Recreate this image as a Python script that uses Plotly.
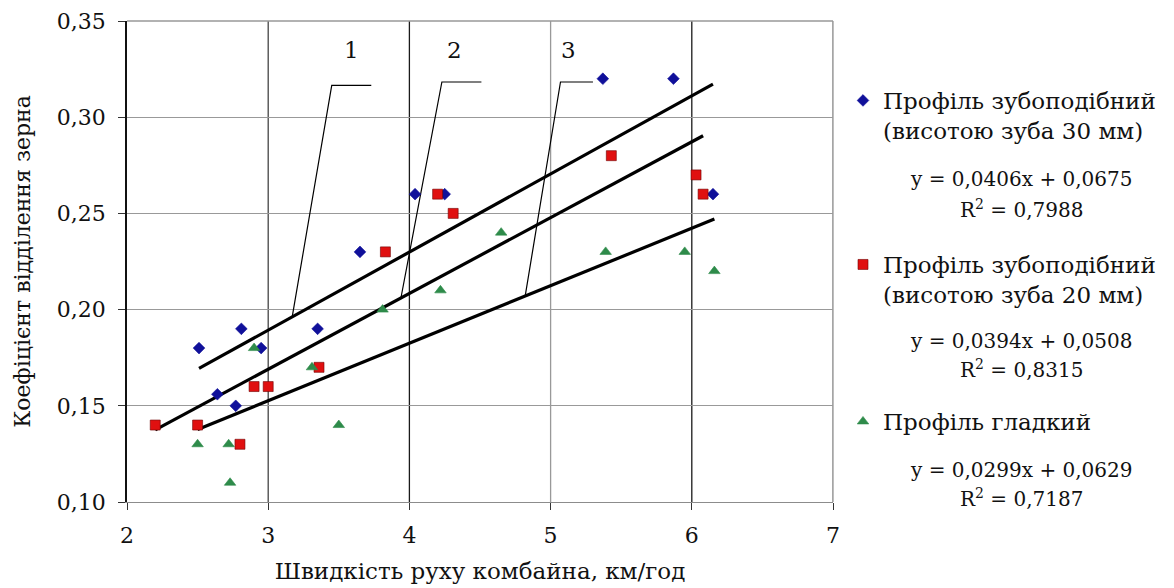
import plotly.graph_objects as go

# ---------------- data ----------------
speed_30 = [2.51, 2.64, 2.77, 2.81, 2.95, 3.35, 3.65, 4.04, 4.25, 5.37, 5.87, 6.15]
coef_30 = [0.18, 0.156, 0.15, 0.19, 0.18, 0.19, 0.23, 0.26, 0.26, 0.32, 0.32, 0.26]

speed_20 = [2.20, 2.50, 2.80, 2.90, 3.00, 3.36, 3.83, 4.20, 4.31, 5.43, 6.03, 6.08]
coef_20 = [0.14, 0.14, 0.13, 0.16, 0.16, 0.17, 0.23, 0.26, 0.25, 0.28, 0.27, 0.26]

speed_smooth = [2.50, 2.72, 2.73, 2.90, 3.31, 3.50, 3.81, 4.22, 4.65, 5.39, 5.95, 6.16]
coef_smooth = [0.13, 0.13, 0.11, 0.18, 0.17, 0.14, 0.20, 0.21, 0.24, 0.23, 0.23, 0.22]

series_names = [
    "Профіль зубоподібний<br>(висотою зуба 30 мм)",
    "Профіль зубоподібний<br>(висотою зуба 20 мм)",
    "Профіль гладкий",
]
slopes = [0.0406, 0.0394, 0.0299]
intercepts = [0.0675, 0.0508, 0.0629]
r_squared = ["0,7988", "0,8315", "0,7187"]
equation_texts = ["y = 0,0406x + 0,0675", "y = 0,0394x + 0,0508", "y = 0,0299x + 0,0629"]

line_labels = ["1", "2", "3"]
label_x = [3.59, 4.32, 5.13]
label_y = [0.3270, 0.3270, 0.3270]
# leader lines: (end of horizontal bar, corner, point on trend line)
leader_bar_end_x = [3.73, 4.51, 5.30]
leader_corner_x = [3.45, 4.23, 5.07]
leader_corner_y = [0.3165, 0.3183, 0.3183]
leader_end_x = [3.17, 3.94, 4.82]

x_ticks = [2, 3, 4, 5, 6, 7]
y_ticks = [0.10, 0.15, 0.20, 0.25, 0.30, 0.35]
x_title = "Швидкість руху комбайна, км/год"
y_title = "Коефіцієнт відділення зерна"

# ---------------- style ----------------
FONT = "DejaVu Serif"
colors = ["#10109a", "#e01010", "#2e8b4a"]
symbols = ["diamond", "square", "triangle-up"]
sizes = [9, 10, 10]
line_colors = ["#999999", "#444444", "#1a1a1a", "#999999", "#1a1a1a", "#999999"]

# page body has an 8px margin: place figure so the plot area lands where the reference has it
PAGE_OFF = 8
PL, PT, PW, PH = 127, 21, 706, 481   # absolute plot area (px)


def px_x(px):
    return (px - PL) / PW


def px_y(py):
    return (PT + PH - py) / PH


fig = go.Figure()

xs = [speed_30, speed_20, speed_smooth]
ys = [coef_30, coef_20, coef_smooth]
legends = ["legend", "legend2", "legend3"]

# trend lines
for i in range(3):
    x0, x1 = min(xs[i]), max(xs[i])
    fig.add_trace(go.Scatter(
        x=[x0, x1],
        y=[slopes[i] * x0 + intercepts[i], slopes[i] * x1 + intercepts[i]],
        mode="lines", line=dict(color="black", width=3.2),
        showlegend=False, hoverinfo="skip"))

# leader lines
for i in range(3):
    xc = leader_corner_x[i]
    yc = leader_corner_y[i]
    xe = leader_end_x[i]
    fig.add_trace(go.Scatter(
        x=[leader_bar_end_x[i], xc, xe],
        y=[yc, yc, slopes[i] * xe + intercepts[i]],
        mode="lines", line=dict(color="black", width=1.2),
        showlegend=False, hoverinfo="skip"))

# scatter series
for i in range(3):
    fig.add_trace(go.Scatter(
        x=xs[i], y=ys[i], mode="markers", name=series_names[i],
        marker=dict(symbol=symbols[i], size=sizes[i], color=colors[i],
                    line=dict(width=0.6, color="#700000" if i == 1 else colors[i])),
        legend=legends[i]))

# line number labels
for i in range(3):
    fig.add_annotation(x=label_x[i], y=label_y[i], text=line_labels[i], showarrow=False,
                       font=dict(family=FONT, size=23), yanchor="bottom")

# vertical grid lines (shapes)
for xv, c in zip(x_ticks, line_colors):
    if xv == x_ticks[0]:
        continue
    fig.add_shape(type="line", x0=xv, x1=xv, y0=0, y1=1, xref="x", yref="paper",
                  line=dict(color=c, width=1.3), layer="below")
# top border
fig.add_shape(type="line", x0=0, x1=1, y0=1, y1=1, xref="paper", yref="paper",
              line=dict(color="#999999", width=1.3), layer="below")

# equations
eq_center_px = 1021
eq_y_px = [(179, 209), (341, 369), (470, 498)]
for i in range(3):
    fig.add_annotation(x=px_x(eq_center_px), y=px_y(eq_y_px[i][0]), xref="paper", yref="paper",
                       xanchor="center", yanchor="middle",
                       text=equation_texts[i], showarrow=False,
                       font=dict(family=FONT, size=20))
    fig.add_annotation(x=px_x(eq_center_px), y=px_y(eq_y_px[i][1]), xref="paper", yref="paper",
                       xanchor="center", yanchor="middle",
                       text="R<sup>2</sup> = " + r_squared[i], showarrow=False,
                       font=dict(family=FONT, size=20))

legend_common = dict(xanchor="left", yanchor="top", valign="top",
                     font=dict(family=FONT, size=23),
                     bgcolor="rgba(0,0,0,0)", borderwidth=0, itemwidth=30)
legend_top_px = [79, 243, 400]
legend_left_px = 843

W, H = 1174 - PAGE_OFF, 588 - PAGE_OFF
ml = PL - PAGE_OFF
mt = PT - PAGE_OFF
mr = W - ml - PW
mb = H - mt - PH

fig.update_layout(
    width=W, height=H,
    margin=dict(l=ml, r=mr, t=mt, b=mb, autoexpand=False),
    paper_bgcolor="white", plot_bgcolor="white",
    separators=", ",
    font=dict(family=FONT, size=22, color="#111111"),
    xaxis=dict(range=[2, 7], tickvals=x_ticks, showgrid=False, zeroline=False,
               showline=True, linecolor="#8c8c8c", linewidth=1.3,
               ticks="outside", ticklen=7, tickcolor="#333", tickwidth=1.3,
               ticklabelstandoff=6,
               tickfont=dict(family=FONT, size=22),
               title=dict(text=x_title, font=dict(family=FONT, size=23), standoff=16)),
    yaxis=dict(range=[0.10, 0.35], tickvals=y_ticks, tickformat=".2f",
               showgrid=True, gridcolor="#999999", gridwidth=1.3, zeroline=False,
               showline=True, linecolor="#111", linewidth=1.5,
               ticks="outside", ticklen=7, tickcolor="#333", tickwidth=1.3,
               ticklabelstandoff=8,
               tickfont=dict(family=FONT, size=22),
               title=dict(text=y_title, font=dict(family=FONT, size=22), standoff=20)),
    legend=dict(x=px_x(legend_left_px), y=px_y(legend_top_px[0]), **legend_common),
    legend2=dict(x=px_x(legend_left_px), y=px_y(legend_top_px[1]), **legend_common),
    legend3=dict(x=px_x(legend_left_px), y=px_y(legend_top_px[2]), **legend_common),
)
fig.add_shape(type="line", x0=1, x1=1, y0=0, y1=1, xref="paper", yref="paper",
              line=dict(color="#999999", width=1.3), layer="below")

fig.write_html("out.html")
